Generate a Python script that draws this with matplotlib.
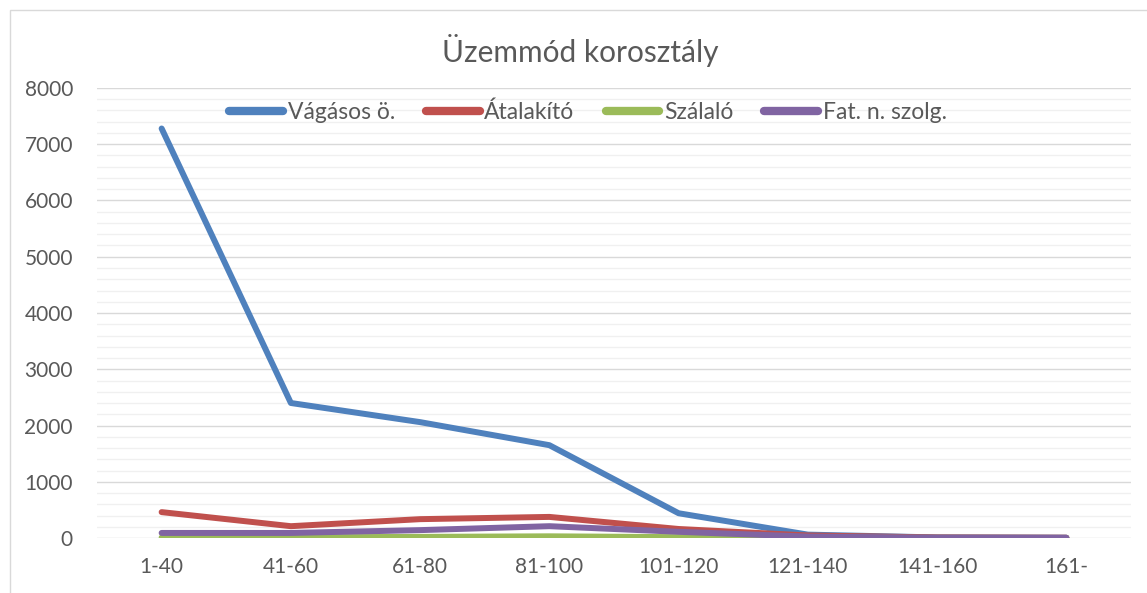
import matplotlib
matplotlib.use("Agg")
import matplotlib.pyplot as plt
from matplotlib.patches import Rectangle
from matplotlib.ticker import MultipleLocator

categories = ["1-40", "41-60", "61-80", "81-100", "101-120", "121-140", "141-160", "161-"]
vagasos = [7280, 2400, 2060, 1650, 440, 60, 10, 5]
atalakito = [460, 210, 335, 375, 160, 45, 10, 5]
szalalo = [8, 12, 20, 30, 15, 5, 2, 1]
fat_n_szolg = [90, 90, 140, 210, 110, 25, 5, 3]

series = [
    ("Vágásos ö.", vagasos, "#4F81BD"),
    ("Átalakító", atalakito, "#C0504D"),
    ("Szálaló", szalalo, "#9BBB59"),
    ("Fat. n. szolg.", fat_n_szolg, "#8064A2"),
]

plt.rcParams['font.family'] = ['Lato', 'DejaVu Sans']
txt = "#595959"

fig = plt.figure(figsize=(11.47, 5.93), dpi=100)
fig.patches.append(Rectangle((10/1147, -0.1), 1.2, 1 - 10/593 + 0.1, transform=fig.transFigure,
                             fill=False, edgecolor="#d9d9d9", linewidth=1.0))
ax = fig.add_axes([97/1147, 1 - 538/593, (1131-97)/1147, (538-88)/593])

x = list(range(len(categories)))
for name, vals, col in series:
    ax.plot(x, vals, color=col, lw=4.3, label=name, solid_capstyle='round', solid_joinstyle='round', zorder=3)

ax.set_xlim(-0.5, len(categories) - 0.5)
ax.set_ylim(0, 8000)
ax.yaxis.set_major_locator(MultipleLocator(1000))
ax.yaxis.set_minor_locator(MultipleLocator(200))
ax.grid(which='major', axis='y', color="#d9d9d9", lw=1.0, zorder=1)
ax.grid(which='minor', axis='y', color="#f0f0f0", lw=1.0, zorder=0)
ax.set_xticks(x)
ax.set_xticklabels(categories)
for s in ax.spines.values():
    s.set_visible(False)
ax.tick_params(axis='both', which='both', length=0, labelsize=15, colors=txt)
ax.tick_params(axis='x', pad=14)
ax.tick_params(axis='y', pad=17.3)
for lab in ax.get_yticklabels():
    lab.set_horizontalalignment('right')

fig.text(580/1147, 1 - 62/593, "Üzemmód korosztály", ha='center', va='baseline', fontsize=21.5, color=txt)

leg = ax.legend(loc='center', bbox_to_anchor=(588/1147, 1 - 112/593), bbox_transform=fig.transFigure,
                ncol=4, frameon=False, fontsize=16.5, handlelength=2.35, handletextpad=0.2,
                columnspacing=1.35, labelcolor=txt, borderpad=0)
for h in leg.get_lines():
    h.set_linewidth(6)
    h.set_solid_capstyle('round')

fig.savefig("out.png", dpi=100)
